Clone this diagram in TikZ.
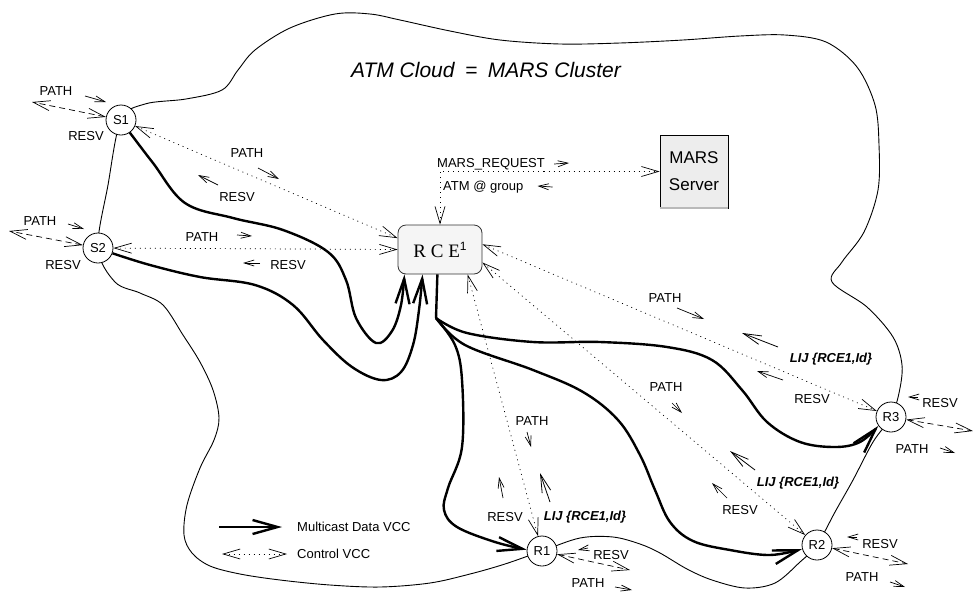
\documentclass[tikz,border=0pt]{standalone}
\usepackage{fontspec}
\setmainfont{Liberation Sans}
\newfontfamily\rcefont{Liberation Serif}
\usepackage{tikz}
\usetikzlibrary{arrows.meta}

\begin{document}
\begin{tikzpicture}[x=1pt, y=-1pt,
    station/.style={draw, circle, minimum size=30pt, inner sep=0pt, fill=white, line width=0.8pt, font=\fontsize{13}{15}\selectfont},
    rcebox/.style={draw=black!80, rectangle, rounded corners=8pt, minimum width=84pt, minimum height=49pt, fill=gray!8, line width=0.8pt},
    serverbox/.style={draw, rectangle, minimum width=68pt, minimum height=73pt, fill=gray!14, align=center, line width=0.8pt, font=\fontsize{17}{27}\selectfont},
    lbl/.style={inner sep=0pt, font=\fontsize{13}{15}\selectfont},
    lijlbl/.style={inner sep=0pt, font=\fontsize{13}{15}\selectfont\bfseries\itshape},
    data/.style={-{Straight Barb[length=25pt,width=14pt]}, line width=2.4pt, line join=round},
    ctrl/.style={{Straight Barb[length=17pt,width=10pt]}-{Straight Barb[length=17pt,width=10pt]}, line width=0.7pt, dash pattern=on 1pt off 4pt},
    dsh/.style={{Straight Barb[length=17pt,width=10pt]}-{Straight Barb[length=17pt,width=10pt]}, line width=0.7pt, dash pattern=on 6pt off 4pt},
    sarr/.style={-{Straight Barb[length=10pt,width=6pt]}, line width=0.7pt},
    lijarr/.style={-{Straight Barb[length=18pt,width=9pt]}, line width=0.8pt},
    cloud/.style={line width=0.9pt}
]
\useasboundingbox (0,0) rectangle (973,592);

% Cloud outline
\draw[cloud] plot[smooth cycle, tension=0.55] coordinates {
    (121,120) (145,104) (186,99) (222,90) (238,70) (255,50) (290,28) (335,14)
    (370,14) (400,20) (450,31) (500,40) (560,44) (620,43) (683,40) (740,36)
    (785,35) (826,42) (857,67) (875,105) (879,145) (878,190) (864,232) (842,262)
    (832,282) (867,307) (893,337) (902,365) (899,393) (891,417) (873,442) (853,480)
    (835,512) (817,545) (800,562) (775,583) (745,588) (712,580) (687,569) (660,553)
    (640,544) (613,537) (580,538) (542,551) (505,564) (470,574) (430,583) (380,587)
    (330,585) (280,580) (240,574) (210,566) (192,553) (184,535) (187,505) (200,468)
    (214,440) (219,418) (213,390) (200,362) (183,335) (163,305) (140,293) (115,282)
    (98,248) (108,185)};

\node[font=\fontsize{21}{25}\selectfont\itshape] (title) at (486,70) {ATM Cloud\enspace=\enspace MARS Cluster};

% Nodes
\node[station] (s1) at (121,120) {S1};
\node[station] (s2) at (98,248) {S2};
\node[station] (r1) at (542,551) {R1};
\node[station] (r2) at (817,545) {R2};
\node[station] (r3) at (891,417) {R3};
\node[rcebox] (rce) at (440,249.5) {\rcefont\fontsize{19}{22}\selectfont R C E\raisebox{7pt}{\normalfont\fontsize{12}{14}\selectfont 1}};
\node[serverbox] (mars) at (694,171.5) {MARS\\Server};
\draw[gray!55, line width=2pt] (mars.south west) -- (mars.south east);
\coordinate (trunk) at (436,318);

% Multicast data
\draw[data] plot[smooth, tension=0.6] coordinates {(s1.-55) (153,163) (185,203) (233,218) (283,230) (328,252) (346,280) (356,318) (376,343) (392,331) (401,305) (rce.-145)};
\draw[data] plot[smooth, tension=0.6] coordinates {(s2.-20) (150,265) (200,277) (255,285) (293,305) (323,340) (352,367) (381,380) (401,372) (413,345) (419,310) (rce.-125)};
\draw[line width=2.4pt] (rce.-96) -- (trunk);
\draw[data] plot[smooth, tension=0.6] coordinates {(trunk) (467,333) (533,342) (600,342) (667,347) (712,360) (742,390) (767,422) (800,442) (835,447) (860,442) (r3.-145)};
\draw[data] plot[smooth, tension=0.6] coordinates {(trunk) (465,345) (533,370) (583,392) (618,420) (640,455) (655,490) (670,522) (693,541) (730,550) (770,555) (r2.-165)};
\draw[data] plot[smooth, tension=0.6] coordinates {(trunk) (455,345) (462,380) (462,447) (448,488) (444,510) (457,527) (495,542) (r1.175)};

% Control VCCs
\draw[ctrl] (s1) -- (rce.165);
\draw[ctrl] (s2) -- (rce.west);
\draw[ctrl] (rce.north) |- (mars.west);
\draw[ctrl] (rce.7) -- (r3);
\draw[ctrl] (rce.-17) -- (r2);
\draw[ctrl] (rce.-42) -- (r1);
\draw[dsh] (s1) -- ++(-89,-18);
\draw[dsh] (s2) -- ++(-89,-17);
\draw[dsh] (r1) -- ++(88,19);
\draw[dsh] (r2) -- ++(91,19);
\draw[dsh] (r3) -- ++(82,14);

% Senders
\node[lbl] (pS1) at (56,91) {PATH};
\node[lbl] (rS1) at (86,136) {RESV};
\node[lbl] (pS2) at (40,221) {PATH};
\node[lbl] (rS2) at (63,265) {RESV};
\draw[sarr] ([shift={(29,5)}]pS1.center) -- ++(21,6);
\draw[sarr] ([shift={(28,3)}]pS2.center) -- ++(16,5);
\node[lbl] (pS1c) at (247,153) {PATH};
\node[lbl] (rS1c) at (237,197) {RESV};
\node[lbl] (pS2c) at (202,237) {PATH};
\node[lbl] (rS2c) at (288,265) {RESV};
\draw[sarr] ([shift={(11,15)}]pS1c.center) -- ++(21,11);
\draw[sarr] ([shift={(-19,-12)}]rS1c.center) -- ++(-20,-10);
\draw[sarr] ([shift={(35,-2)}]pS2c.center) -- ++(15,1);
\draw[sarr] ([shift={(-28,-2)}]rS2c.center) -- ++(-17,0);

% MARS
\node[lbl, anchor=west] (mreq) at (437,164) {MARS\_REQUEST};
\node[lbl, anchor=west] (mgrp) at (443,187) {ATM @ group};
\draw[sarr] ([shift={(9,0)}]mreq.east) -- ++(15,-1);
\draw[sarr] ([shift={(29,0)}]mgrp.east) -- ++(-15,-1);

% Receivers
\node[lbl] (pR3c) at (665,298) {PATH};
\node[lijlbl] (lR3c) at (831,359) {LIJ \{RCE1,Id\}};
\node[lbl] (rR3c) at (812,399) {RESV};
\draw[sarr] ([shift={(12,10)}]pR3c.center) -- ++(27,11);
\draw[lijarr] ([shift={(-53,-12)}]lR3c.center) -- ++(-36,-14);
\draw[sarr] ([shift={(-29,-19)}]rR3c.center) -- ++(-26,-9);

\node[lbl] (pR2c) at (666,387) {PATH};
\node[lijlbl] (lR2c) at (798,483) {LIJ \{RCE1,Id\}};
\node[lbl] (rR2c) at (740,510) {RESV};
\draw[sarr] ([shift={(6,16)}]pR2c.center) -- ++(10,10);
\draw[lijarr] ([shift={(-43,-13)}]lR2c.center) -- ++(-25,-19);
\draw[sarr] ([shift={(-13,-12)}]rR2c.center) -- ++(-15,-15);

\node[lbl] (pR1c) at (532,421) {PATH};
\node[lbl] (rR1c) at (505,517) {RESV};
\node[lijlbl] (lR1c) at (585,517) {LIJ \{RCE1,Id\}};
\draw[sarr] ([shift={(-5,11)}]pR1c.center) -- ++(4,15);
\draw[sarr] ([shift={(-2,-19)}]rR1c.center) -- ++(-4,-21);
\draw[lijarr] ([shift={(-35,-15)}]lR1c.center) -- ++(-10,-29);

\node[lbl] (rR1) at (611,555) {RESV};
\node[lbl] (pR1) at (588,583) {PATH};
\node[lbl] (rR2) at (880,544) {RESV};
\node[lbl] (pR2) at (862,577) {PATH};
\node[lbl] (rR3) at (940,403) {RESV};
\node[lbl] (pR3) at (912,449) {PATH};
\draw[sarr] ([shift={(-23,-7)}]rR1.center) -- ++(-10,2);
\draw[sarr] ([shift={(27,4)}]pR1.center) -- ++(17,3);
\draw[sarr] ([shift={(-23,-7)}]rR2.center) -- ++(-10,0);
\draw[sarr] ([shift={(28,5)}]pR2.center) -- ++(15,5);
\draw[sarr] ([shift={(-22,-6)}]rR3.center) -- ++(-10,0);
\draw[sarr] ([shift={(28,-1)}]pR3.center) -- ++(15,5);

% Legend
\node[lbl, anchor=west] (lgdata) at (297,527) {Multicast Data VCC};
\node[lbl, anchor=west] (lgctrl) at (297,554) {Control VCC};
\draw[data] ([xshift=-78pt]lgdata.west) -- ([xshift=-15pt]lgdata.west);
\draw[ctrl] ([xshift=-75pt]lgctrl.west) -- ([xshift=-10pt]lgctrl.west);

\end{tikzpicture}
\end{document}
